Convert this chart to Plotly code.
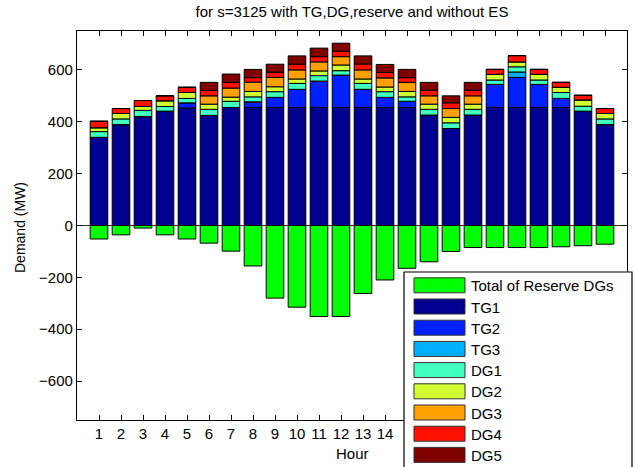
import plotly.graph_objects as go

hours = list(range(1, 25))
reserve = [-52, -36, -10, -36, -52, -68, -99, -156, -280, -315, -351, -351,
           -262, -210, -165, -140, -100, -85, -85, -85, -85, -82, -78, -72]
TG1 = [340, 389, 420, 441, 453, 424, 455, 455, 455, 455, 455, 455,
       455, 455, 455, 426, 374, 426, 455, 455, 455, 455, 441, 389]
TG2 = [0, 0, 0, 0, 20, 0, 0, 22, 39, 70, 102, 125,
       70, 39, 24, 0, 0, 0, 89, 116, 89, 35, 0, 0]
TG3 = [0, 0, 0, 0, 0, 0, 0, 0, 0, 0, 0, 0,
       0, 0, 0, 0, 0, 0, 0, 21, 0, 0, 0, 0]
DG1 = [22, 22, 24, 18, 17, 24, 24, 19, 22, 23, 21, 17,
       23, 22, 17, 22, 22, 22, 17, 20, 17, 23, 19, 22]
DG2 = [15, 21, 15, 22, 23, 20, 16, 21, 19, 17, 18, 22,
       17, 18, 21, 20, 21, 20, 22, 19, 22, 20, 24, 21]
DG3 = [0, 0, 0, 0, 0, 32, 35, 36, 36, 35, 35, 32,
       35, 35, 35, 32, 34, 32, 0, 0, 0, 0, 0, 0]
DG4 = [25, 19, 23, 19, 20, 21, 22, 17, 20, 22, 20, 21,
       23, 21, 18, 22, 22, 22, 19, 24, 19, 19, 18, 19]
DG5 = [0, 0, 0, 0, 0, 31, 32, 32, 31, 32, 33, 31,
       31, 31, 32, 30, 27, 30, 0, 0, 0, 0, 0, 0]
# tick labels 15-24 are covered by the legend box in the reference
tick_labels = [str(h) if h <= 14 else "" for h in hours]

names = ["Total of Reserve DGs", "TG1", "TG2", "TG3", "DG1", "DG2", "DG3", "DG4", "DG5"]
series = [reserve, TG1, TG2, TG3, DG1, DG2, DG3, DG4, DG5]
colors = ["#00FF00", "#000090", "#0020FF", "#00AFFF", "#40FFBF",
          "#CFFF30", "#FF9F00", "#FF1000", "#800000"]

W, H = 635, 467
ML, MR, MT, MB = 77, 8, 31, 47
PW, PH = W - ML - MR, H - MT - MB
FONT = "Liberation Sans, Arial, Helvetica, sans-serif"


def px(x):
    return (x - ML) / PW


def py(y):
    return (H - MB - y) / PH


fig = go.Figure()
for n, s, c in zip(names, series, colors):
    fig.add_trace(go.Bar(x=hours, y=s, name=n, marker=dict(color=c, line=dict(color="black", width=1)),
                         width=0.8, showlegend=False))

shapes = []
annotations = []
# custom legend
shapes.append(dict(type="rect", xref="paper", yref="paper", x0=px(404), x1=px(632), y0=py(475), y1=py(272),
                   fillcolor="white", line=dict(color="black", width=1.2), layer="above"))
for i, (n, c) in enumerate(zip(names, colors)):
    cy = 285.3 + i * 21.2
    shapes.append(dict(type="rect", xref="paper", yref="paper", x0=px(414), x1=px(465),
                       y0=py(cy + 7.5), y1=py(cy - 7.5), fillcolor=c,
                       line=dict(color="#333333", width=1), layer="above"))
    annotations.append(dict(text=n, xref="paper", yref="paper", x=px(469), y=py(cy + 0.5),
                            xanchor="left", yanchor="middle", showarrow=False,
                            font=dict(family=FONT, size=15, color="black")))

annotations.append(dict(text="Hour", xref="paper", yref="paper", x=px(352), y=py(453),
                        xanchor="center", yanchor="middle", showarrow=False,
                        font=dict(family=FONT, size=15, color="black")))
annotations.append(dict(text="Demand (MW)", xref="paper", yref="paper", x=px(20), y=py(228),
                        xanchor="center", yanchor="middle", showarrow=False, textangle=-90,
                        font=dict(family=FONT, size=14, color="black")))

fig.update_layout(
    width=W, height=H, margin=dict(l=ML, r=MR, t=MT, b=MB),
    barmode="relative", bargap=0.2,
    plot_bgcolor="white", paper_bgcolor="white",
    title=dict(text="for s=3125 with TG,DG,reserve and without ES", x=px(352), xref="paper",
               xanchor="center", y=1 - 12 / H, yanchor="middle",
               font=dict(family=FONT, size=15, color="black")),
    shapes=shapes, annotations=annotations,
    font=dict(family=FONT, size=15, color="black"),
)
fig.update_xaxes(range=[0, 25], tickvals=hours, ticktext=tick_labels,
                 ticks="inside", ticklen=5, tickcolor="black", showline=True, linecolor="black",
                 linewidth=1.3, mirror="ticks", showgrid=False, zeroline=False,
                 tickfont=dict(family=FONT, size=15, color="black"))
fig.update_yaxes(range=[-750, 750], tickvals=[-600, -400, -200, 0, 200, 400, 600],
                 ticks="inside", ticklen=5, tickcolor="black", showline=True, linecolor="black",
                 linewidth=1.3, mirror="ticks", showgrid=False, zeroline=True,
                 zerolinecolor="#333333", zerolinewidth=1,
                 tickfont=dict(family=FONT, size=15, color="black"))

fig.write_html("out.html")
